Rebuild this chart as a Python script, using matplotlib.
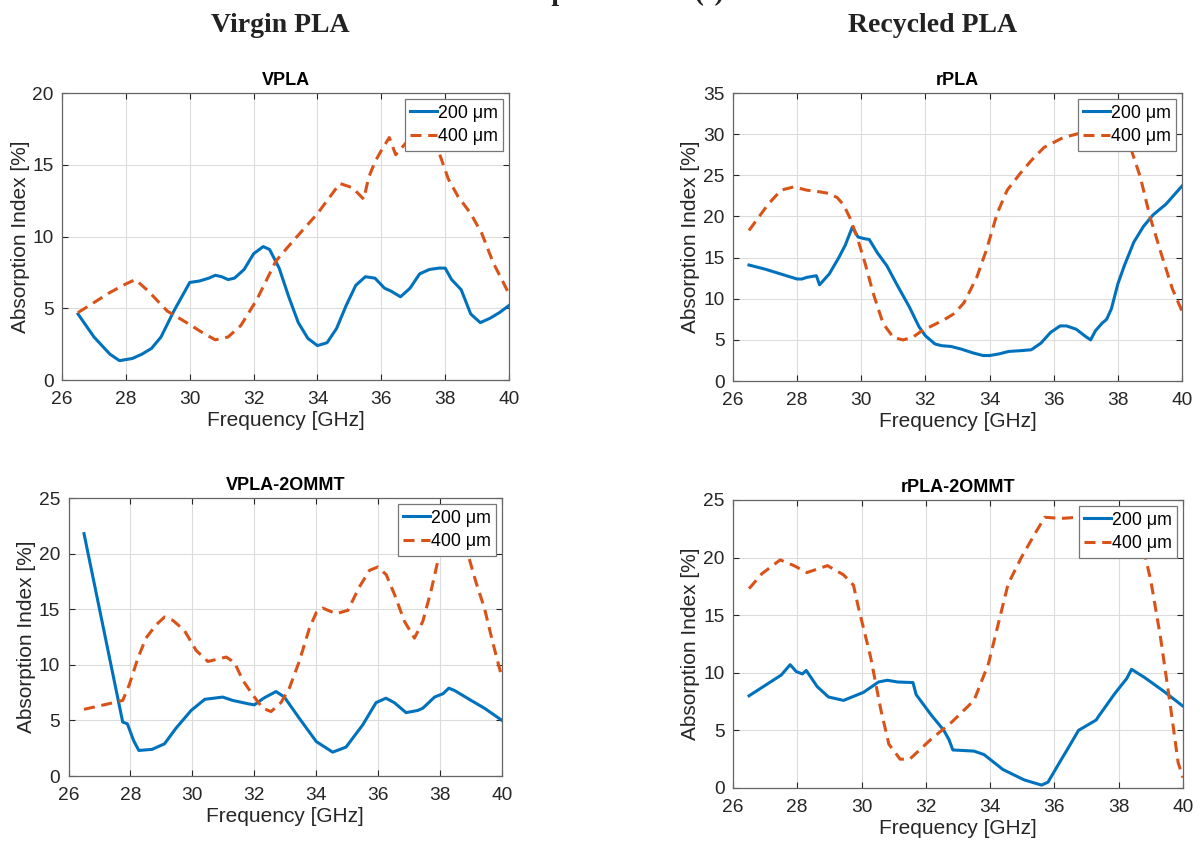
import matplotlib
matplotlib.use("Agg")
from matplotlib import pyplot as plt

# ---- data ----
# VPLA
f_vpla_200 = [26.5, 27.0, 27.5, 27.8, 28.2, 28.5, 28.8, 29.1, 29.5, 29.8, 30.0, 30.3, 30.6, 30.8, 31.0, 31.2,
              31.4, 31.7, 32.0, 32.3, 32.5, 32.8, 33.1, 33.4, 33.7, 34.0, 34.3, 34.6, 34.9, 35.2, 35.5, 35.8,
              36.1, 36.3, 36.6, 36.9, 37.2, 37.5, 37.8, 38.0, 38.2, 38.5, 38.8, 39.1, 39.4, 39.7, 40.0]
a_vpla_200 = [4.6, 3.0, 1.8, 1.35, 1.5, 1.8, 2.2, 3.0, 4.8, 6.0, 6.8, 6.9, 7.1, 7.3, 7.2, 7.0,
              7.1, 7.7, 8.8, 9.3, 9.1, 7.8, 5.8, 4.0, 2.9, 2.4, 2.6, 3.6, 5.2, 6.6, 7.2, 7.1,
              6.4, 6.2, 5.8, 6.4, 7.4, 7.7, 7.8, 7.8, 7.0, 6.3, 4.6, 4.0, 4.3, 4.7, 5.2]
f_vpla_400 = [26.5, 27.0, 27.5, 28.0, 28.3, 28.7, 29.3, 29.9, 30.4, 30.8, 31.2, 31.6, 32.1, 32.7, 33.2, 34.0,
              34.7, 35.1, 35.45, 35.6, 35.8, 36.0, 36.25, 36.45, 36.8, 37.3, 37.8, 38.1, 38.4, 38.8, 39.15,
              39.5, 40.0]
a_vpla_400 = [4.7, 5.4, 6.1, 6.7, 7.0, 6.2, 4.8, 4.0, 3.3, 2.8, 3.0, 3.8, 5.6, 8.3, 9.6, 11.6,
              13.7, 13.4, 12.6, 14.1, 15.2, 16.0, 16.9, 15.7, 16.6, 17.2, 15.9, 14.0, 12.8, 11.6, 10.2,
              8.2, 6.0]

# rPLA
f_rpla_200 = [26.5, 27.0, 27.5, 28.0, 28.15, 28.3, 28.6, 28.7, 29.0, 29.3, 29.5, 29.72, 29.9, 30.1, 30.25,
              30.5, 30.8, 31.1, 31.5, 31.8, 32.0, 32.3, 32.5, 32.8, 33.1, 33.5, 33.8, 34.0, 34.3, 34.6,
              35.0, 35.3, 35.6, 35.9, 36.2, 36.4, 36.7, 37.0, 37.15, 37.3, 37.5, 37.65, 37.8, 38.0, 38.2,
              38.5, 38.8, 39.1, 39.5, 40.0]
a_rpla_200 = [14.1, 13.6, 13.0, 12.4, 12.4, 12.6, 12.8, 11.7, 13.0, 15.0, 16.5, 18.7, 17.5, 17.3, 17.2,
              15.6, 14.0, 11.8, 9.0, 6.6, 5.5, 4.5, 4.3, 4.2, 3.9, 3.4, 3.1, 3.1, 3.3, 3.6,
              3.7, 3.8, 4.6, 5.9, 6.7, 6.7, 6.3, 5.4, 5.0, 6.1, 7.0, 7.5, 8.8, 11.8, 14.0,
              16.9, 18.8, 20.2, 21.5, 23.7]
f_rpla_400 = [26.5, 26.8, 27.1, 27.5, 27.9, 28.3, 28.7, 29.0, 29.25, 29.45, 29.65, 29.87, 30.12, 30.37,
              30.68, 31.0, 31.3, 31.6, 31.85, 32.2, 32.56, 32.9, 33.2, 33.6, 33.9, 34.24, 34.55, 34.97,
              35.3, 35.7, 36.3, 36.8, 37.3, 37.8, 38.1, 38.35, 38.7, 39.0, 39.35, 39.7, 40.0]
a_rpla_400 = [18.3, 19.9, 21.5, 23.2, 23.6, 23.2, 23.0, 22.8, 22.3, 21.4, 19.8, 17.5, 14.3, 10.7,
              7.0, 5.3, 5.0, 5.3, 6.0, 6.7, 7.4, 8.2, 9.5, 12.6, 15.9, 20.4, 23.2, 25.3,
              26.8, 28.4, 29.6, 30.1, 30.5, 30.5, 30.0, 28.9, 24.8, 20.0, 15.5, 11.2, 8.5]

# VPLA-2OMMT
f_vmmt_200 = [26.5, 27.75, 27.9, 28.1, 28.27, 28.7, 29.1, 29.47, 29.96, 30.4, 30.98, 31.3, 31.8, 32.0, 32.3,
              32.7, 32.97, 33.45, 34.0, 34.53, 34.96, 35.5, 35.93, 36.25, 36.52, 36.9, 37.28, 37.44, 37.82,
              38.09, 38.28, 38.46, 39.0, 39.43, 40.0]
a_vmmt_200 = [21.8, 4.85, 4.7, 3.2, 2.3, 2.4, 2.9, 4.3, 5.9, 6.9, 7.1, 6.8, 6.5, 6.4, 7.0,
              7.6, 7.1, 5.2, 3.1, 2.15, 2.6, 4.6, 6.6, 7.0, 6.6, 5.7, 5.9, 6.1, 7.1,
              7.4, 7.9, 7.7, 6.8, 6.1, 5.0]
f_vmmt_400 = [26.5, 27.3, 27.75, 27.96, 28.24, 28.5, 28.83, 29.1, 29.37, 29.74, 30.12, 30.5, 31.09, 31.36,
              31.63, 31.95, 32.27, 32.54, 32.86, 33.13, 33.45, 33.78, 34.0, 34.21, 34.64, 35.02, 35.39,
              35.72, 35.99, 36.26, 36.53, 36.85, 37.17, 37.44, 37.71, 37.98, 38.4, 38.84, 39.16, 39.43,
              39.7, 40.0]
a_vmmt_400 = [6.0, 6.5, 6.8, 8.2, 10.6, 12.4, 13.6, 14.3, 14.0, 13.1, 11.3, 10.3, 10.7, 10.2,
              8.6, 7.3, 6.1, 5.8, 6.6, 7.9, 10.3, 13.3, 14.7, 15.1, 14.6, 14.9, 17.0,
              18.5, 18.8, 18.1, 16.3, 13.9, 12.4, 13.9, 16.7, 20.0, 21.5, 20.5, 17.4, 15.1,
              12.0, 8.8]

# rPLA-2OMMT
f_rmmt_200 = [26.5, 27.0, 27.5, 27.78, 27.97, 28.16, 28.28, 28.62, 28.97, 29.44, 30.06, 30.53, 30.8, 31.12,
              31.6, 31.7, 32.15, 32.56, 32.72, 32.84, 33.5, 33.81, 34.4, 35.06, 35.6, 35.8, 36.2, 36.5,
              36.75, 37.3, 37.37, 37.88, 38.25, 38.4, 38.8, 39.4, 40.0]
a_rmmt_200 = [8.0, 8.9, 9.8, 10.7, 10.1, 9.9, 10.2, 8.8, 7.9, 7.6, 8.3, 9.2, 9.35, 9.2,
              9.15, 8.1, 6.4, 5.0, 4.2, 3.3, 3.2, 2.9, 1.6, 0.7, 0.25, 0.5, 2.4, 3.8,
              5.0, 5.9, 6.2, 8.2, 9.5, 10.3, 9.6, 8.4, 7.1]
f_rmmt_400 = [26.5, 26.9, 27.47, 27.9, 28.3, 28.94, 29.44, 29.75, 29.9, 30.28, 30.6, 30.85, 31.2, 31.5,
              32.15, 32.8, 33.5, 33.95, 34.25, 34.56, 34.97, 35.38, 35.7, 36.2, 36.75, 37.3, 37.8, 38.3,
              38.81, 39.0, 39.3, 39.6, 39.85, 40.0]
a_rmmt_400 = [17.3, 18.6, 19.8, 19.3, 18.7, 19.3, 18.5, 17.6, 15.7, 11.4, 6.8, 3.8, 2.5, 2.5,
              4.2, 5.7, 7.6, 10.8, 14.2, 17.7, 20.0, 22.0, 23.5, 23.4, 23.5, 23.2, 22.6, 21.6,
              20.3, 18.0, 13.1, 7.3, 2.2, 0.9]

panel_titles = ["VPLA", "rPLA", "VPLA-2OMMT", "rPLA-2OMMT"]
legend_labels = ["200 μm", "400 μm"]
y_max = [20, 35, 25, 25]
x_ticks = [26, 28, 30, 32, 34, 36, 38, 40]

BLUE = "#0072BD"
ORANGE = "#D95319"

plt.rcParams["font.family"] = ["Liberation Sans", "DejaVu Sans"]

fig = plt.figure(figsize=(12, 8.46), dpi=100)

# axes rectangles in figure fractions (left, bottom, width, height)
rects = [
    [0.0517, 0.5508, 0.3725, 0.3392],
    [0.6108, 0.5496, 0.3742, 0.3404],
    [0.0571, 0.0827, 0.3613, 0.3286],
    [0.6108, 0.0686, 0.3750, 0.3404],
]
series = [
    (f_vpla_200, a_vpla_200, f_vpla_400, a_vpla_400),
    (f_rpla_200, a_rpla_200, f_rpla_400, a_rpla_400),
    (f_vmmt_200, a_vmmt_200, f_vmmt_400, a_vmmt_400),
    (f_rmmt_200, a_rmmt_200, f_rmmt_400, a_rmmt_400),
]

for i in range(4):
    ax = fig.add_axes(rects[i])
    f1, a1, f2, a2 = series[i]
    ax.plot(f1, a1, color=BLUE, lw=2.2, label=legend_labels[0])
    ax.plot(f2, a2, color=ORANGE, lw=2.2, dashes=(3.6, 2.2), label=legend_labels[1])

    ax.set_xlim(26, 40)
    ax.set_ylim(0, y_max[i])
    ax.set_xticks(x_ticks)
    ax.set_yticks(range(0, y_max[i] + 1, 5))
    ax.grid(True, color="#dcdcdc", lw=0.8)
    ax.set_axisbelow(True)
    ax.tick_params(direction="in", length=4, width=0.8, colors="#262626",
                   labelsize=13.8, top=True, right=True)
    ax.tick_params(axis="x", pad=8)
    ax.tick_params(axis="y", pad=6)
    for sp in ax.spines.values():
        sp.set_color("#666666")
        sp.set_linewidth(0.9)

    ax.set_title(panel_titles[i], fontsize=13, fontweight="bold", pad=6)
    ax.set_xlabel("Frequency [GHz]", fontsize=15, color="#262626", labelpad=2)
    ax.set_ylabel("Absorption Index [%]", fontsize=15, color="#262626", labelpad=2)

    leg = ax.legend(loc="upper right", fontsize=12.8, handlelength=1.5, handletextpad=0.05,
                    borderpad=0.3, labelspacing=0.38, borderaxespad=0.35,
                    fancybox=False, framealpha=1, edgecolor="#777777")
    leg.get_frame().set_linewidth(0.9)

# column headings and the cut-off main title
fig.text(0.2333, 0.9622, "Virgin PLA", fontsize=20, fontweight="bold",
         family="Liberation Serif", ha="center", va="baseline", color="#222222")
fig.text(0.7775, 0.9622, "Recycled PLA", fontsize=20, fontweight="bold",
         family="Liberation Serif", ha="center", va="baseline", color="#222222")
fig.text(0.603, 1.0, "Absorption Index (I)", fontsize=20, fontweight="bold",
         family="Liberation Serif", ha="right", va="baseline", color="#222222")

plt.savefig("out.png", dpi=100)
